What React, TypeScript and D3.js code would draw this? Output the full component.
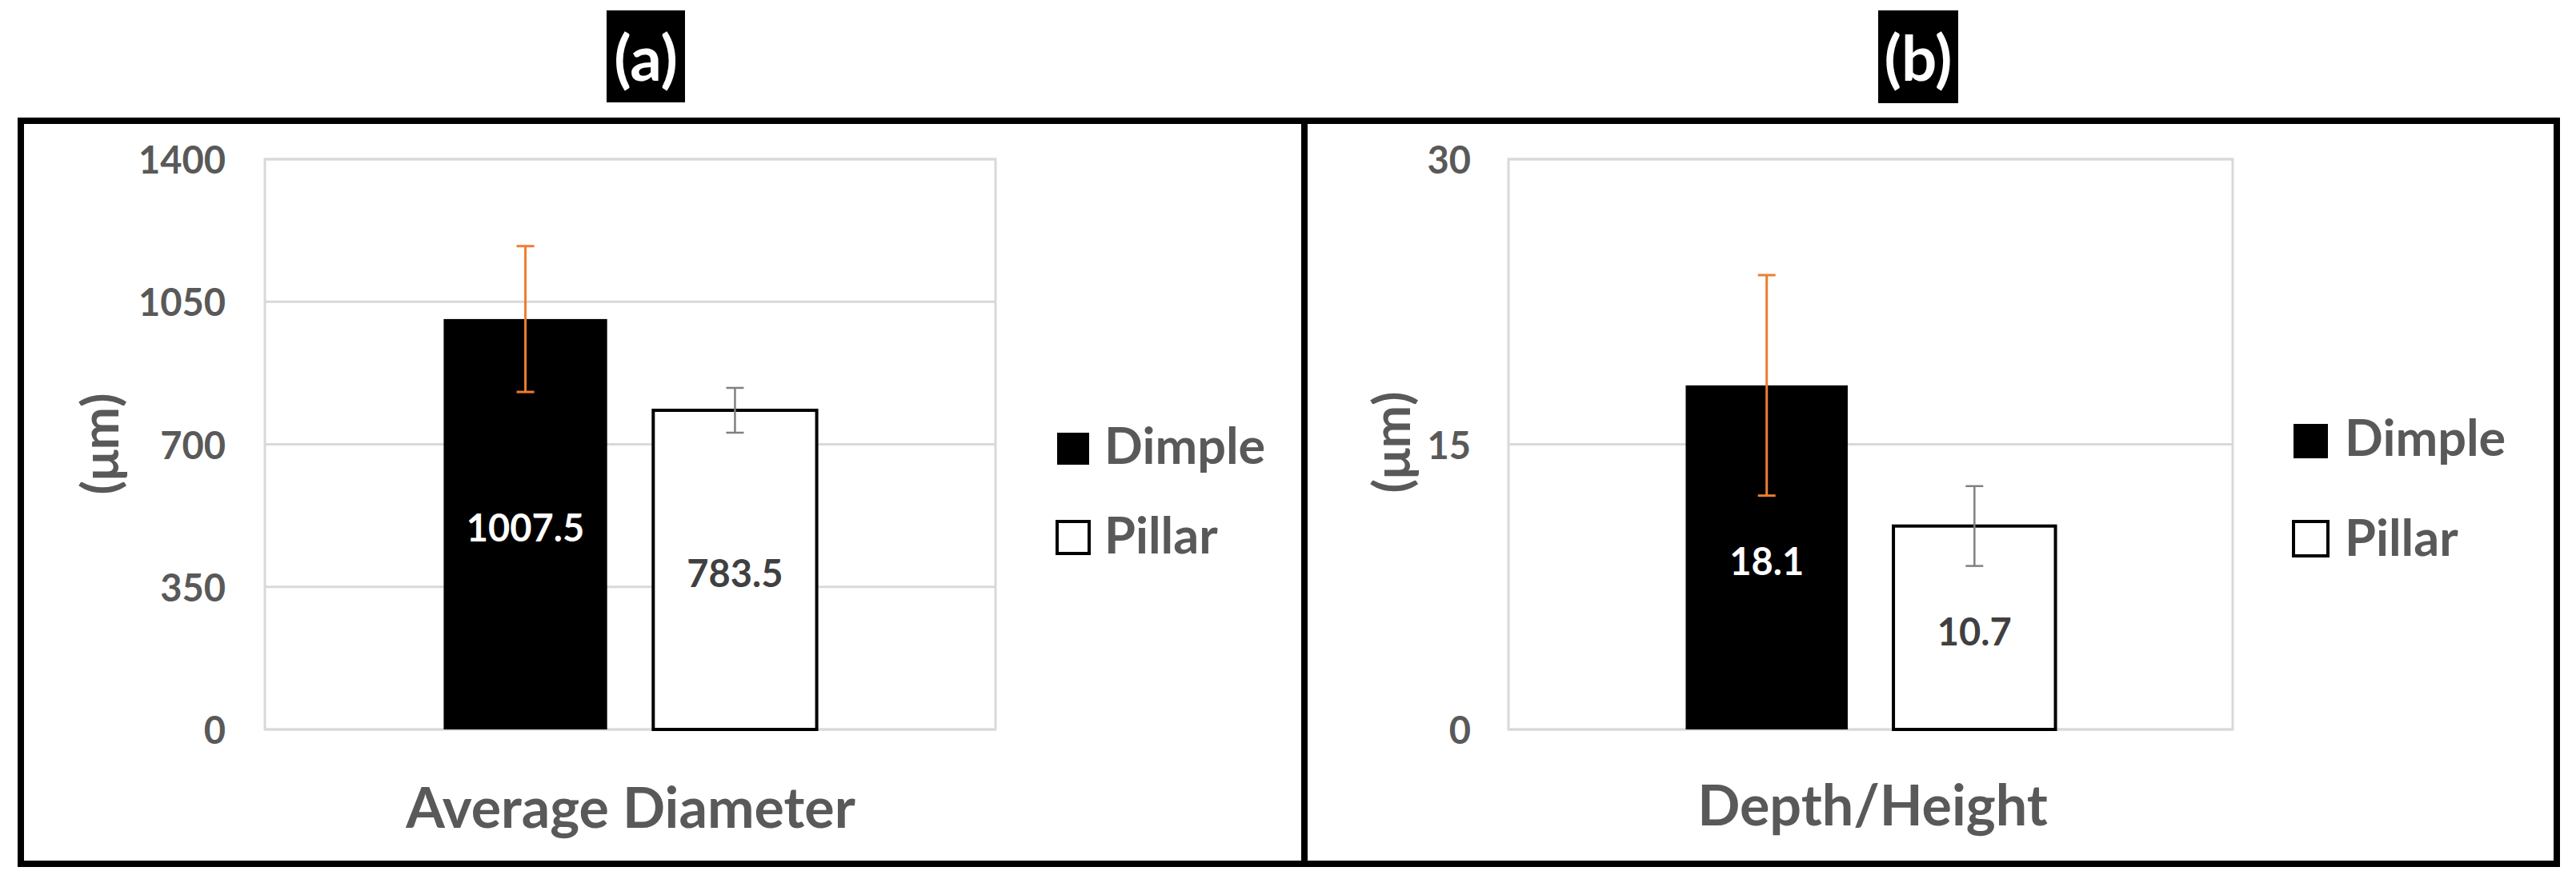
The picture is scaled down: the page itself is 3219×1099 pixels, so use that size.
import React from 'react';
import * as d3 from 'd3';

// series / categories
const seriesNames = ['Dimple', 'Pillar'];
const seriesFill = ['#000000', '#ffffff'];
const errColors = ['#ED7D31', '#808080'];
const labelColors = ['#ffffff', '#404040'];

const diameterCategory = ['Average Diameter'];
const diameterMeans = [1007.5, 783.5];
const diameterErr = [179, 55];
const diameterTicks = [0, 350, 700, 1050, 1400];

const depthCategory = ['Depth/Height'];
const depthMeans = [18.1, 10.7];
const depthErr = [5.8, 2.1];
const depthTicks = [0, 15, 30];

const FONT = "Lato, 'Open Sans', sans-serif";
const GREY = '#595959';

type PanelProps = {
  tag: string;
  category: string[];
  means: number[];
  errs: number[];
  ticks: number[];
  frame: [number, number, number, number];
  plot: [number, number, number, number];
  tickX: number;
  yTitle: [number, number];
  xTitle: [number, number];
  legend: { x: number; size: number; tops: number[]; textX: number; baselines: number[] };
  badge: [number, number, number, number];
};

const Panel = (p: PanelProps) => {
  const [px0, py0, px1, py1] = p.plot;
  const y = d3.scaleLinear().domain([0, d3.max(p.ticks) as number]).range([py1, py0]);
  const x0 = d3.scaleBand().domain(p.category).range([px0, px1]).padding(0.324);
  const x1 = d3.scaleBand().domain(seriesNames).range([0, x0.bandwidth()]).paddingInner(0.22);
  const gx = x0(p.category[0]) as number;
  const [fx0, fy0, fx1, fy1] = p.frame;
  const [bx0, by0, bx1, by1] = p.badge;

  return (
    <g>
      <rect x={fx0} y={fy0} width={fx1 - fx0} height={fy1 - fy0} fill="none" stroke="#000" strokeWidth={8} />

      {/* badge */}
      <rect x={bx0} y={by0} width={bx1 - bx0} height={by1 - by0} fill="#000" />
      <text x={(bx0 + bx1) / 2} y={(by0 + by1) / 2} textAnchor="middle" dominantBaseline="central"
        fill="#fff" fontFamily="'Liberation Sans Narrow', Lato, sans-serif" fontWeight="bold" fontSize={78}>
        {p.tag}
      </text>

      {/* plot area + grid */}
      <rect x={px0} y={py0} width={px1 - px0} height={py1 - py0} fill="none" stroke="#d9d9d9" strokeWidth={3} />
      {p.ticks.map(t => (
        <g key={t}>
          <line x1={px0} x2={px1} y1={y(t)} y2={y(t)} stroke="#d9d9d9" strokeWidth={3} />
          <text x={p.tickX} y={y(t)} textAnchor="end" dominantBaseline="central"
            fill={GREY} fontFamily={FONT} fontWeight="bold" fontSize={47}>{t}</text>
        </g>
      ))}

      {/* bars */}
      {seriesNames.map((s, i) => {
        const bx = gx + (x1(s) as number);
        const bw = x1.bandwidth();
        const top = y(p.means[i]);
        return (
          <g key={s}>
            <rect x={bx} y={top} width={bw} height={y(0) - top} fill={seriesFill[i]}
              stroke="#000" strokeWidth={i === 1 ? 4 : 0} />
            <text x={bx + bw / 2} y={(top + y(0)) / 2 + 4} textAnchor="middle" dominantBaseline="central"
              fill={labelColors[i]} fontFamily={FONT} fontWeight="bold" fontSize={47}>{p.means[i]}</text>
          </g>
        );
      })}

      {/* error bars */}
      {seriesNames.map((s, i) => {
        const cx = gx + (x1(s) as number) + x1.bandwidth() / 2;
        const hi = y(p.means[i] + p.errs[i]);
        const lo = y(p.means[i] - p.errs[i]);
        const sw = i === 0 ? 3 : 2.5;
        return (
          <g key={s + 'err'} stroke={errColors[i]} strokeWidth={sw}>
            <line x1={cx} x2={cx} y1={hi} y2={lo} />
            <line x1={cx - 11} x2={cx + 11} y1={hi} y2={hi} />
            <line x1={cx - 11} x2={cx + 11} y1={lo} y2={lo} />
          </g>
        );
      })}

      {/* axis titles */}
      <text transform={`translate(${p.yTitle[0]},${p.yTitle[1]}) rotate(-90)`} textAnchor="middle"
        dominantBaseline="central" fill={GREY} fontFamily={FONT} fontWeight="bold" fontSize={64}>(μm)</text>
      <text x={p.xTitle[0]} y={p.xTitle[1]} textAnchor="middle" fill={GREY}
        fontFamily={FONT} fontWeight="bold" fontSize={70}>{p.category[0]}</text>

      {/* legend */}
      {seriesNames.map((s, i) => (
        <g key={s + 'leg'}>
          <rect x={p.legend.x} y={p.legend.tops[i]} width={p.legend.size} height={p.legend.size}
            fill={seriesFill[i]} stroke="#000" strokeWidth={i === 1 ? 4 : 0} />
          <text x={p.legend.textX} y={p.legend.baselines[i]} fill={GREY} fontFamily={FONT}
            fontWeight="bold" fontSize={63}>{s}</text>
        </g>
      ))}
    </g>
  );
};

const App = () => {
  return (
    <svg width={3219} height={1099} style={{ position: 'absolute', left: 0, top: 0, background: '#fff' }}>
      <rect x={0} y={0} width={3219} height={1099} fill="#fff" />
      <Panel
        tag="(a)"
        category={diameterCategory}
        means={diameterMeans}
        errs={diameterErr}
        ticks={diameterTicks}
        frame={[26, 151, 1630, 1080]}
        plot={[331, 199, 1244, 912]}
        tickX={282}
        yTitle={[123, 555]}
        xTitle={[788, 1035]}
        legend={{ x: 1321, size: 40, tops: [541, 652], textX: 1380, baselines: [580, 692] }}
        badge={[758, 13, 856, 128]}
      />
      <Panel
        tag="(b)"
        category={depthCategory}
        means={depthMeans}
        errs={depthErr}
        ticks={depthTicks}
        frame={[1630, 151, 3195, 1080]}
        plot={[1885, 199, 2790, 912]}
        tickX={1838}
        yTitle={[1737, 553]}
        xTitle={[2340, 1032]}
        legend={{ x: 2866, size: 43, tops: [530, 652], textX: 2930, baselines: [570, 695] }}
        badge={[2347, 13, 2447, 129]}
      />
    </svg>
  );
};

export default App;
